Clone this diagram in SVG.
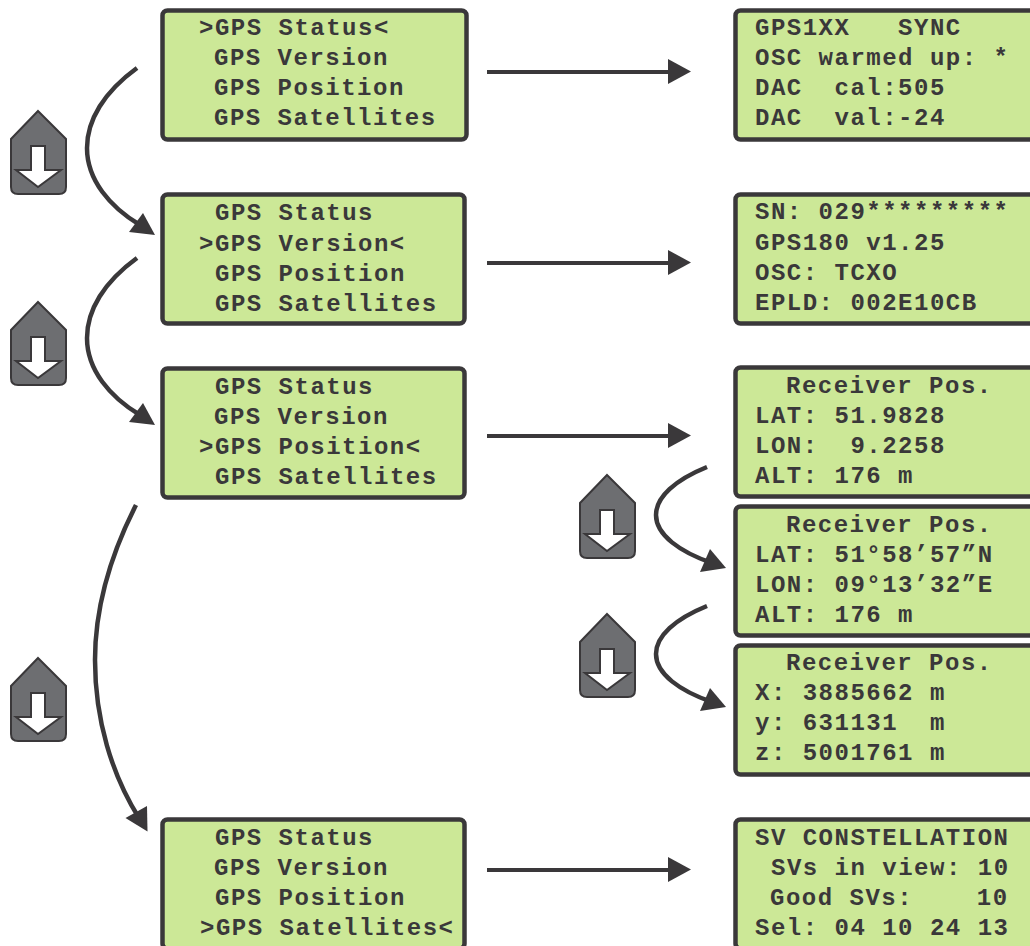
<svg xmlns="http://www.w3.org/2000/svg" width="1030" height="946" viewBox="0 0 1030 946">
<style>
.lcd{fill:#cce897;stroke:#3a383a;stroke-width:4.5}
text{font-family:"Liberation Mono","Courier New",monospace;font-weight:700;font-size:24px;letter-spacing:1.5px;fill:#3a383a;white-space:pre}
.c{fill:none;stroke:#3a383a;stroke-width:4.5}
.l{fill:none;stroke:#3a383a;stroke-width:4}
.h{fill:#3a383a;stroke:none}
.hb{fill:#6d6e71;stroke:#3a383a;stroke-width:2}
.ar{fill:#fff;stroke:#3a383a;stroke-width:2}
</style>
<defs>
<g id="badge"><path class="hb" d="M38,111L66,139V187Q66,194 59,194H18Q11,194 11,187V139Z"/><path class="ar" d="M31,146H45V170H61L38,187L16,170H31Z"/></g>
</defs>
<g id="connectors">
<path class="l" d="M487,72H669"/><path class="h" d="M668,59L691,71.500L668,84Z"/>
<path class="l" d="M487,263H669"/><path class="h" d="M668,250L691,262.500L668,275Z"/>
<path class="l" d="M487,436H669"/><path class="h" d="M668,423L691,435.500L668,448Z"/>
<path class="l" d="M487,870H669"/><path class="h" d="M668,857L691,869.500L668,882Z"/>
<path class="c" d="M137,68C104,92 87,120 87,148C87,180 110,207 140,225"/><path class="h" d="M155,235L129,232L143,213Z"/>
<path class="c" d="M137,258C104,282 87,310 87,338C87,370 110,397 140,415"/><path class="h" d="M155,425L129,422L143,403Z"/>
<path class="c" d="M136,505C108,560 95,610 95,660C95,720 112,775 139,818"/><path class="h" d="M147.500,831.500L125.500,818L147,806Z"/>
<path class="c" d="M707,467C675,480 656,497 656,515C656,535 680,552 712,563"/><path class="h" d="M726,568L700,572L710,549Z"/>
<path class="c" d="M707,606C675,619 656,636 656,654C656,674 680,691 712,702"/><path class="h" d="M726,707L700,711L710,688Z"/>
</g>
<g id="badge1"><use href="#badge"/></g>
<g id="badge2"><use href="#badge" y="191"/></g>
<g id="badge3"><use href="#badge" y="547"/></g>
<g id="badge4"><use href="#badge" x="569" y="364"/></g>
<g id="badge5"><use href="#badge" x="569" y="503"/></g>
<g id="menu1"><rect class="lcd" x="162.500" y="10.500" width="304" height="129" rx="5"/>
<text x="199" y="35">&gt;GPS Status&lt;</text><text x="214" y="65">GPS Version</text><text x="214" y="95">GPS Position</text><text x="214" y="125">GPS Satellites</text></g>
<g id="menu2"><rect class="lcd" x="162.500" y="194.500" width="302" height="129" rx="5"/>
<text x="215" y="220">GPS Status</text><text x="199" y="251">&gt;GPS Version&lt;</text><text x="215" y="281">GPS Position</text><text x="215" y="311">GPS Satellites</text></g>
<g id="menu3"><rect class="lcd" x="162.500" y="368.500" width="302" height="129" rx="5"/>
<text x="215" y="394">GPS Status</text><text x="214" y="424">GPS Version</text><text x="199" y="454">&gt;GPS Position&lt;</text><text x="215" y="484">GPS Satellites</text></g>
<g id="menu4"><rect class="lcd" x="162.500" y="819.500" width="302" height="129" rx="5"/>
<text x="215" y="845">GPS Status</text><text x="214" y="875">GPS Version</text><text x="215" y="905">GPS Position</text><text x="200" y="935">&gt;GPS Satellites&lt;</text></g>
<g id="status"><rect class="lcd" x="735.500" y="10.500" width="310" height="129" rx="5"/>
<text x="755" y="35">GPS1XX   SYNC</text><text x="755" y="65">OSC warmed up: *</text><text x="755" y="95">DAC  cal:505</text><text x="755" y="125">DAC  val:-24</text></g>
<g id="version"><rect class="lcd" x="735.500" y="194.500" width="310" height="129" rx="5"/>
<text x="755" y="219">SN: 029*********</text><text x="755" y="250">GPS180 v1.25</text><text x="755" y="280">OSC: TCXO</text><text x="755" y="310">EPLD: 002E10CB</text></g>
<g id="pos1"><rect class="lcd" x="735.500" y="367.500" width="310" height="129" rx="5"/>
<text x="786" y="393">Receiver Pos.</text><text x="755" y="423">LAT: 51.9828</text><text x="755" y="453">LON:  9.2258</text><text x="755" y="483">ALT: 176 m</text></g>
<g id="pos2"><rect class="lcd" x="735.500" y="506.500" width="310" height="129" rx="5"/>
<text x="786" y="532">Receiver Pos.</text><text x="755" y="562">LAT: 51°58’57”N</text><text x="755" y="592">LON: 09°13’32”E</text><text x="755" y="622">ALT: 176 m</text></g>
<g id="pos3"><rect class="lcd" x="735.500" y="645.500" width="310" height="129" rx="5"/>
<text x="786" y="670">Receiver Pos.</text><text x="755" y="700">X: 3885662 m</text><text x="755" y="730">y: 631131  m</text><text x="755" y="760">z: 5001761 m</text></g>
<g id="sats"><rect class="lcd" x="735.500" y="819.500" width="310" height="129" rx="5"/>
<text x="755" y="845">SV CONSTELLATION</text><text x="771" y="875">SVs in view: 10</text><text x="770" y="905">Good SVs:    10</text><text x="755" y="935">Sel: 04 10 24 13</text></g>
</svg>
